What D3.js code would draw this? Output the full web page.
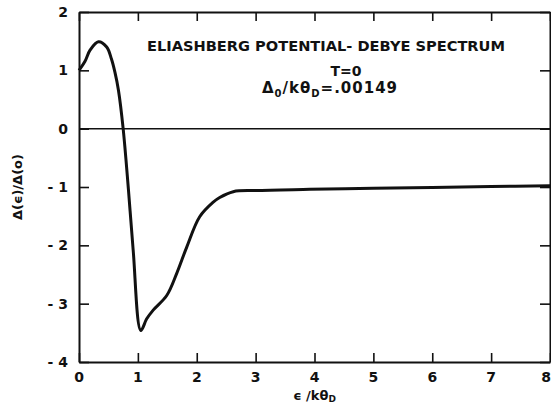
<!DOCTYPE html>
<html>
<head>
<meta charset="utf-8">
<script src="https://d3js.org/d3.v7.min.js"></script>
<style>
  body { margin: 0; background: #fff; }
  text { font-family: "DejaVu Sans", sans-serif; font-weight: bold; fill: #111; }
</style>
</head>
<body>
<div id="chart"></div>
<script>
// values
var energy = [0, 0.1, 0.19, 0.33, 0.47, 0.55, 0.61, 0.67, 0.75, 0.84, 0.92, 1.05,
              1.15, 1.26, 1.49, 1.66, 1.83, 2.05, 2.28, 2.39, 2.62, 3.0, 3.92, 5, 6, 7, 8];
var gapRatio = [1.0, 1.15, 1.35, 1.49, 1.40, 1.20, 0.97, 0.66, 0.0, -1.05, -2.08, -3.46,
                -3.26, -3.11, -2.86, -2.48, -2.03, -1.51, -1.26, -1.18, -1.08, -1.06, -1.04, -1.02, -1.01, -0.99, -0.98];
var xTicks = [0, 1, 2, 3, 4, 5, 6, 7, 8];
var yTicks = [2, 1, 0, -1, -2, -3, -4];

var W = 551, H = 404;
var margin = {top: 12, right: 1, bottom: 42, left: 79};
var width = W - margin.left - margin.right,
    height = H - margin.top - margin.bottom;

var svg = d3.select("#chart").append("svg")
    .attr("width", W).attr("height", H);
var g = svg.append("g")
    .attr("transform", "translate(" + margin.left + "," + margin.top + ")");

var x = d3.scaleLinear().domain([0, 8]).range([0, width]);
var y = d3.scaleLinear().domain([-4, 2]).range([height, 0]);

function styleAxis(sel) {
  sel.select(".domain").attr("stroke", "#111").attr("stroke-width", 2);
  sel.selectAll(".tick line").attr("stroke", "#111").attr("stroke-width", 1.6);
}

// inward ticks on all four sides
g.append("g").attr("transform", "translate(0," + height + ")")
  .call(d3.axisBottom(x).tickValues(xTicks).tickSizeInner(-9).tickSizeOuter(0).tickFormat(""))
  .call(styleAxis);
g.append("g")
  .call(d3.axisTop(x).tickValues(xTicks).tickSizeInner(-9).tickSizeOuter(0).tickFormat(""))
  .call(styleAxis);
g.append("g")
  .call(d3.axisLeft(y).tickValues(yTicks).tickSizeInner(-10).tickSizeOuter(0).tickFormat(""))
  .call(styleAxis);
g.append("g").attr("transform", "translate(" + width + ",0)")
  .call(d3.axisRight(y).tickValues(yTicks).tickSizeInner(-10).tickSizeOuter(0).tickFormat(""))
  .call(styleAxis);

// tick labels
g.selectAll(".xl").data(xTicks).enter().append("text")
  .attr("x", function(d) { return d === 8 ? x(d) - 4 : x(d); })
  .attr("y", height + 20)
  .attr("text-anchor", "middle")
  .attr("font-size", 14)
  .text(function(d) { return d; });

g.selectAll(".yl").data(yTicks).enter().append("text")
  .attr("x", -11)
  .attr("y", function(d) { return y(d) + 5; })
  .attr("text-anchor", "end")
  .attr("font-size", 14)
  .text(function(d) { return d < 0 ? "- " + Math.abs(d) : d; });

// zero line
g.append("line")
  .attr("x1", 0).attr("x2", width)
  .attr("y1", y(0)).attr("y2", y(0))
  .attr("stroke", "#111").attr("stroke-width", 1.5);

// curve
var pts = energy.map(function(e, i) { return [e, gapRatio[i]]; });
var line = d3.line()
  .x(function(d) { return x(d[0]); })
  .y(function(d) { return y(d[1]); })
  .curve(d3.curveCatmullRom.alpha(0.5));
g.append("path").datum(pts)
  .attr("d", line)
  .attr("fill", "none")
  .attr("stroke", "#111")
  .attr("stroke-width", 3)
  .attr("stroke-linejoin", "round");

// annotation
var ann = g.append("g").attr("text-anchor", "middle");
ann.append("text")
  .attr("x", 247).attr("y", 39)
  .attr("font-size", 14)
  .attr("textLength", 358).attr("lengthAdjust", "spacingAndGlyphs")
  .text("ELIASHBERG POTENTIAL- DEBYE SPECTRUM");
ann.append("text")
  .attr("x", 267).attr("y", 64)
  .attr("font-size", 14)
  .text("T=0");
var t3 = ann.append("text").attr("x", 251).attr("y", 81)
  .attr("font-size", 15).attr("letter-spacing", 1);
t3.append("tspan").text("Δ");
t3.append("tspan").attr("font-size", 10).attr("dy", 4).text("0");
t3.append("tspan").attr("dy", -4).text("/kθ");
t3.append("tspan").attr("font-size", 10).attr("dy", 4).text("D");
t3.append("tspan").attr("dy", -4).text("=.00149");

// axis titles
var xt = g.append("text")
  .attr("x", width / 2).attr("y", height + 38)
  .attr("text-anchor", "middle").attr("font-size", 13);
xt.append("tspan").text("ϵ /kθ");
xt.append("tspan").attr("font-size", 9).attr("dy", 2).text("D");

g.append("text")
  .attr("transform", "translate(" + (-57) + "," + (height / 2) + ") rotate(-90)")
  .attr("text-anchor", "middle").attr("font-size", 13)
  .text("Δ(ϵ)/Δ(o)");
</script>
</body>
</html>
